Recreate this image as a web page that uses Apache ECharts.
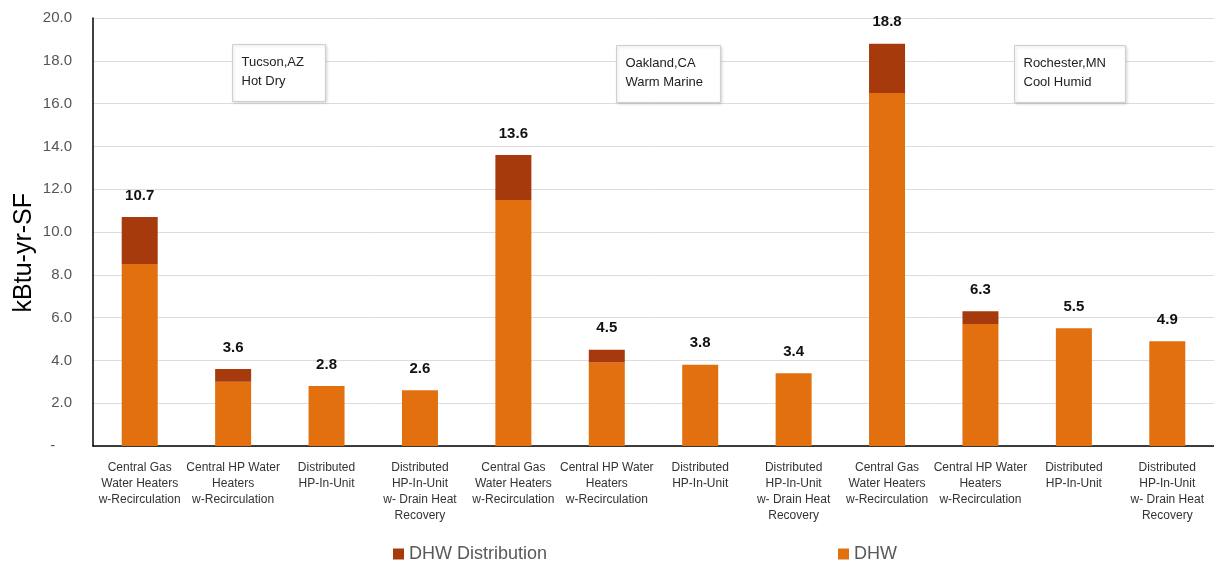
<!DOCTYPE html>
<html>
<head>
<meta charset="utf-8">
<script src="https://cdn.jsdelivr.net/npm/echarts@6/dist/echarts.min.js"></script>
<style>
  html, body { margin: 0; padding: 0; background: #ffffff; }
  #chart { width: 1214px; height: 563px; }
</style>
</head>
<body>
<div id="chart"></div>
<script>
// Domestic hot water energy use by system type, three climate zones
const categories = [
  'Central Gas\nWater Heaters\nw-Recirculation',
  'Central HP Water\nHeaters\nw-Recirculation',
  'Distributed\nHP-In-Unit',
  'Distributed\nHP-In-Unit\nw- Drain Heat\nRecovery',
  'Central Gas\nWater Heaters\nw-Recirculation',
  'Central HP Water\nHeaters\nw-Recirculation',
  'Distributed\nHP-In-Unit',
  'Distributed\nHP-In-Unit\nw- Drain Heat\nRecovery',
  'Central Gas\nWater Heaters\nw-Recirculation',
  'Central HP Water\nHeaters\nw-Recirculation',
  'Distributed\nHP-In-Unit',
  'Distributed\nHP-In-Unit\nw- Drain Heat\nRecovery'
];
const dhw          = [8.5, 3.0, 2.8, 2.6, 11.5, 3.9, 3.8, 3.4, 16.5, 5.7, 5.5, 4.9];
const distribution = [2.2, 0.6, 0.0, 0.0, 2.1, 0.6, 0.0, 0.0, 2.3, 0.6, 0.0, 0.0];
const climateNotes = [
  'Tucson,AZ\nHot Dry',
  'Oakland,CA\nWarm Marine',
  'Rochester,MN\nCool Humid'
];

const FONT = '"Liberation Sans", Arial, sans-serif';
const COLOR_DHW = '#E2700E';
const COLOR_DIST = '#A63A0C';

function noteBox(left, top, w, h, text) {
  return {
    type: 'group', left: left, top: top, z: 100,
    children: [
      { type: 'rect', z: 100, shape: { x: 0, y: 0, width: w, height: h },
        style: { fill: '#ffffff', stroke: '#cfcfcf', lineWidth: 1,
                 shadowBlur: 3, shadowColor: 'rgba(0,0,0,0.15)', shadowOffsetX: 1, shadowOffsetY: 1 } },
      { type: 'text', z: 101, x: 9, y: 8,
        style: { text: text, font: '13px ' + FONT, fill: '#222222', lineHeight: 19 } }
    ]
  };
}

const chart = echarts.init(document.getElementById('chart'));
chart.setOption({
  backgroundColor: '#ffffff',
  animation: false,
  grid: { left: 93, right: 0, top: 18, bottom: 117, containLabel: false },
  legend: [
    { data: [{ name: 'DHW Distribution' }], left: 388, top: 540, itemWidth: 11, itemHeight: 11,
      icon: 'rect', textStyle: { fontFamily: FONT, fontSize: 18, color: '#595959' } },
    { data: [{ name: 'DHW' }], left: 833, top: 540, itemWidth: 11, itemHeight: 11,
      icon: 'rect', textStyle: { fontFamily: FONT, fontSize: 18, color: '#595959' } }
  ],
  xAxis: {
    type: 'category',
    data: categories,
    axisLine: { lineStyle: { color: '#000000', width: 1.5 } },
    axisTick: { show: false },
    axisLabel: { interval: 0, margin: 14, fontFamily: FONT, fontSize: 12, lineHeight: 16,
                 color: '#333333', align: 'center' }
  },
  yAxis: {
    type: 'value', min: 0, max: 20, interval: 2,
    axisLine: { show: true, lineStyle: { color: '#000000', width: 1.5 } },
    axisTick: { show: false },
    splitLine: { lineStyle: { color: '#dcdcdc', width: 1 } },
    axisLabel: {
      margin: 21, fontFamily: FONT, fontSize: 15, color: '#555555',
      formatter: v => v === 0 ? ' -    ' : v.toFixed(1)
    }
  },
  graphic: [
    { type: 'text', left: 12, top: 193, rotation: Math.PI / 2,
      style: { text: 'kBtu-yr-SF', font: '25px ' + FONT, fill: '#000000' } },
    noteBox(232, 44, 93, 57, climateNotes[0]),
    noteBox(616, 45, 104, 57, climateNotes[1]),
    noteBox(1014, 45, 111, 57, climateNotes[2])
  ],
  series: [
    {
      name: 'DHW', type: 'bar', stack: 'total', data: dhw, barWidth: 36,
      itemStyle: { color: COLOR_DHW }
    },
    {
      name: 'DHW Distribution', type: 'bar', stack: 'total', data: distribution, barWidth: 36,
      itemStyle: { color: COLOR_DIST },
      label: {
        show: true, position: 'top', distance: 14,
        fontFamily: FONT, fontSize: 15, fontWeight: 'bold', color: '#111111',
        formatter: p => (dhw[p.dataIndex] + distribution[p.dataIndex]).toFixed(1)
      }
    }
  ]
});
</script>
</body>
</html>
